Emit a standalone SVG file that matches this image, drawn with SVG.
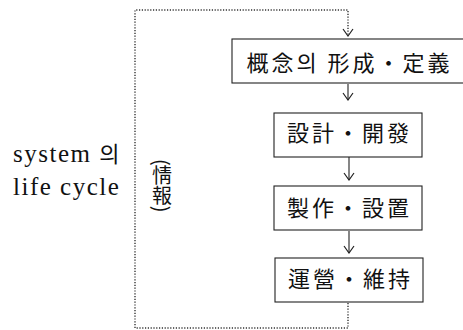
<svg xmlns="http://www.w3.org/2000/svg" width="463" height="330" viewBox="0 0 463 330">
<defs>
<marker id="vee2" viewBox="0 0 12 10" refX="6" refY="9" markerWidth="12" markerHeight="10" markerUnits="userSpaceOnUse" orient="0">
<path d="M1,2 L6,9 L11,2" fill="none" stroke="#222" stroke-width="1.2"/>
</marker>
</defs>
<style>
.box{fill:#fff;stroke:#222;stroke-width:1.1}
.lbl{font-family:"Noto Sans CJK KR","Noto Sans CJK JP",sans-serif;font-size:22px;fill:#111;text-anchor:middle;letter-spacing:3px}
.side{font-family:"Liberation Serif","Noto Sans CJK KR",serif;font-size:25px;fill:#111;letter-spacing:1.5px}
.vt{font-family:"Noto Sans CJK KR","Noto Sans CJK JP",sans-serif;font-size:20px;fill:#111;writing-mode:vertical-rl}
.dot{fill:none;stroke:#333;stroke-width:1.4;stroke-dasharray:1.2 1.6}
.arr{fill:none;stroke:#222;stroke-width:1.1}
</style>
<rect width="463" height="330" fill="#fff"/>
<g id="connectors">
<path class="dot" d="M135,328 L135,10 L348,10 L348,36" marker-end="url(#vee2)"/>
<path class="dot" d="M348,303 L348,328 L135,328"/>
<path class="arr" d="M348,84 L348,100" marker-end="url(#vee2)"/>
<path class="arr" d="M349,157 L349,180" marker-end="url(#vee2)"/>
<path class="arr" d="M349,231 L349,253" marker-end="url(#vee2)"/>
</g>
<g id="node-concept">
<rect class="box" x="232" y="39" width="240" height="44"/>
<text class="lbl" x="349.5" y="71">概念의 形成・定義</text>
</g>
<g id="node-design">
<rect class="box" x="274" y="113" width="148" height="44"/>
<text class="lbl" x="349.5" y="141">設計・開發</text>
</g>
<g id="node-build">
<rect class="box" x="274" y="186" width="148" height="44"/>
<text class="lbl" x="349.5" y="216">製作・設置</text>
</g>
<g id="node-operate">
<rect class="box" x="275" y="258" width="148" height="44"/>
<text class="lbl" x="350.5" y="287">運營・維持</text>
</g>
<g id="label-side">
<text class="side" x="13" y="162">system <tspan font-family="Noto Sans CJK KR,sans-serif" font-size="22">의</tspan></text>
<text class="side" x="13" y="195">life cycle</text>
</g>
<g id="label-info">
<text class="vt" x="162" y="159">(情報)</text>
</g>
</svg>
